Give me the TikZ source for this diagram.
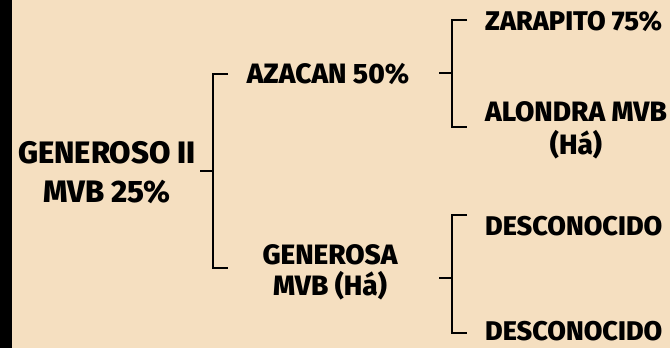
\documentclass[tikz,border=0pt]{standalone}
\usepackage{fontspec}
\setmainfont{Fira Sans}[BoldFont={Fira Sans ExtraBold}]
\definecolor{parch}{HTML}{F5DFC0}
\tikzset{
  horse/.style={font=\bfseries\fontsize{28}{31}\selectfont, align=center, inner sep=0pt},
  leaf/.style={horse, font=\bfseries\fontsize{27}{31}\selectfont, anchor=west},
  bracket/.style={line width=2pt}
}
\begin{document}
\begin{tikzpicture}[x=1pt,y=-1pt]
\fill[parch] (0,0) rectangle (670,348);
\useasboundingbox (0,0) rectangle (670,348);
\fill[black] (0,0) rectangle (12,348);
% horses
\node[horse, font=\bfseries\fontsize{31}{39}\selectfont] (root) at (107,173) {GENEROSO II\\MVB 25\%};
\node[horse] (azacan) at (328,74) {AZACAN 50\%};
\node[horse] (generosa) at (330,272) {GENEROSA\\MVB (Há)};
\node[leaf] (zarapito) at (485,21) {ZARAPITO 75\%};
\node[horse, font=\bfseries\fontsize{28}{33}\selectfont] (alondra) at (576,130) {ALONDRA MVB\\(Há)};
\node[leaf] (desc1) at (485,226) {DESCONOCIDO};
\node[leaf] (desc2) at (485,331) {DESCONOCIDO};
% brackets
\coordinate (b1t) at (228,74);
\coordinate (b1m) at (213,171);
\coordinate (b1b) at (228,268);
\draw[bracket] (b1t) -| (b1m) |- (b1b);
\draw[bracket] (b1m) -- ++(-13,0);
\coordinate (b2t) at (467,20);
\coordinate (b2m) at (452,73);
\coordinate (b2b) at (467,127);
\draw[bracket] (b2t) -| (b2m) |- (b2b);
\draw[bracket] (b2m) -- ++(-13,0);
\coordinate (b3t) at (467,215);
\coordinate (b3m) at (452,278);
\coordinate (b3b) at (467,333);
\draw[bracket] (b3t) -| (b3m) |- (b3b);
\draw[bracket] (b3m) -- ++(-13,0);
\end{tikzpicture}
\end{document}
